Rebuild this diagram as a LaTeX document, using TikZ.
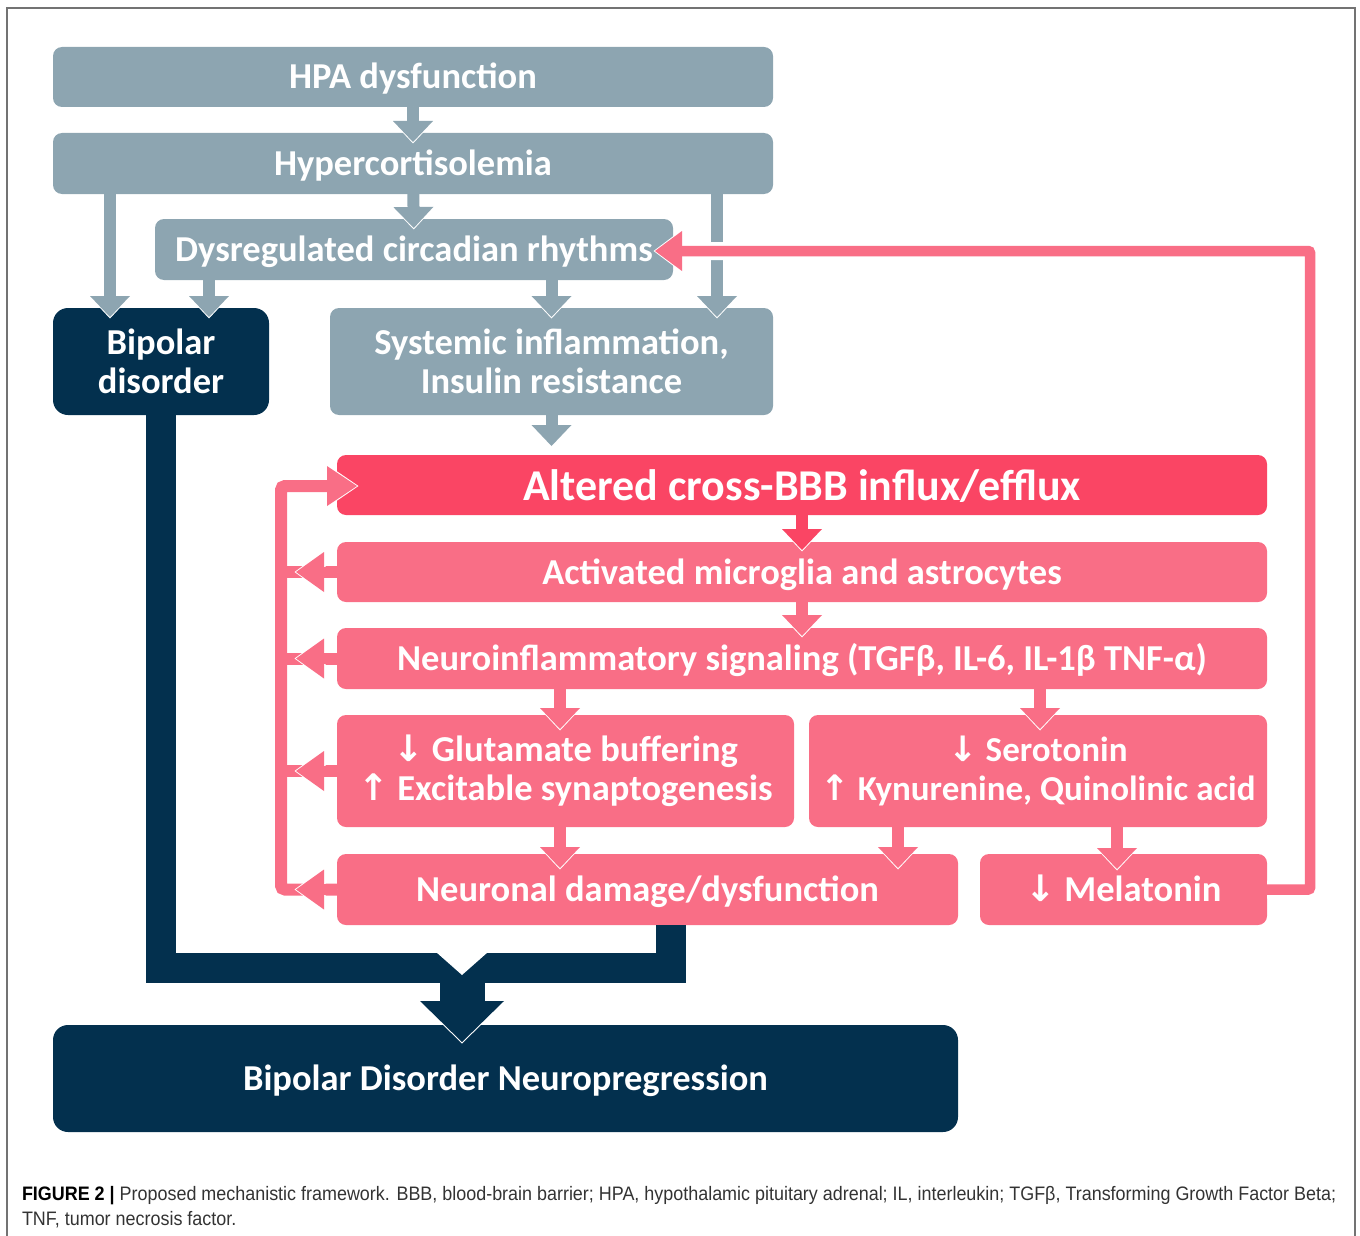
\documentclass[tikz,border=0pt]{standalone}
\usepackage{fontspec}
\usetikzlibrary{arrows.meta}

\newfontfamily\boxfont{Carlito}
\newfontfamily\captionfont[FakeStretch=0.92]{Liberation Sans}
\newfontfamily\symbolfont{DejaVu Sans}
\newcommand{\lessarrow}{{\symbolfont\char"2193}}
\newcommand{\morearrow}{{\symbolfont\char"2191}}

\definecolor{grey box color}{HTML}{8DA5B1}
\definecolor{navy box color}{HTML}{03304E}
\definecolor{bbb box color}{HTML}{FA4564}
\definecolor{pink box color}{HTML}{F96E86}
\colorlet{frame color}{black!55}
\colorlet{caption color}{black!80}

\tikzset{
    x={1pt},
    y={-1pt},
    box/.style={
        fill={#1}, draw=none,
        rounded corners={9pt},
        text=white, align=center,
        inner sep=0pt, outer sep=0pt,
        font={\boxfont\bfseries\fontsize{36.5}{39}\selectfont},
    },
    one line/.style={
        text height={27pt},
        text depth={3pt},
    },
    tip halo/.style n args={3}{
        preaction={
            draw=white, line width={0.1pt},
            shorten >={-(#1)-1.5},
            -{Triangle[length=#2, width=#3, line width=0pt, color=white, fill=white]},
        },
    },
    down arrow/.style={
        tip halo={#1}{24pt}{45pt},
        line width={12},
        shorten >={-(#1)},
        -{Triangle[length=21pt, width=40pt, line width=0pt]},
    },
    down arrow/.default={9},
    left arrow/.style={
        tip halo={0}{31pt}{45pt},
        draw=pink box color,
        line width={11},
        -{Triangle[length=28pt, width=40pt, line width=0pt]},
    },
    bus line/.style={
        draw=pink box color,
        line width={12},
        rounded corners={4pt},
    },
    bus arrow/.style={
        bus line,
        tip halo={20}{33pt}{45pt},
        shorten >={-20},
        -{Triangle[length=30pt, width=40pt, line width=0pt]},
    },
    feedback arrow/.style={
        preaction={draw=white, line width={18}, shorten >={9}, -},
        tip halo={18}{30pt}{45pt},
        draw=pink box color,
        line width={10.5},
        rounded corners={2pt},
        shorten >={-18},
        -{Triangle[length=27pt, width=40pt, line width=0pt]},
    },
    navy bar/.style={
        draw=navy box color,
        line width={30},
    },
    navy arrow/.style={
        tip halo={17}{44pt}{90pt},
        draw=navy box color,
        line width={45},
        shorten >={-17},
        -{Triangle[length=41pt, width=84pt, line width=0pt]},
    },
    caption/.style={
        font={\captionfont\fontsize{19.5}{24}\selectfont},
        text=caption color,
        inner sep=0pt, outer sep=0pt,
        anchor=base west,
    },
}

\begin{document}
\begin{tikzpicture}
\useasboundingbox (0,0) rectangle (1360,1236);
% frame
\draw[frame color, line width={1.2}] (7,1236) |- (1355,8) -- (1355,1236);
% boxes
\node[box={grey box color}, one line, minimum width={720}, minimum height={60}] (hpa) at (413,77) {HPA dysfunction};
\node[box={grey box color}, one line, minimum width={720}, minimum height={61}] (hyper) at (413,163.5) {Hypercortisolemia};
\node[box={grey box color}, one line, minimum width={518}, minimum height={61}] (circadian) at (414,249.5) {Dysregulated circadian rhythms};
\node[box={navy box color}, rounded corners={15pt}, minimum width={216}, minimum height={107}] (bipolar) at (161,361.5) {Bipolar\\disorder};
\node[box={grey box color}, minimum width={443}, minimum height={107}] (systemic) at (551.5,361.5) {Systemic inflammation,\\Insulin resistance};
\node[box={bbb box color}, minimum width={930}, minimum height={60}, text height={34pt}, text depth={3pt}, font={\boxfont\bfseries\fontsize{44}{48}\selectfont}] (bbb) at (802,485) {Altered cross-BBB influx/efflux};
\node[box={pink box color}, one line, minimum width={930}, minimum height={60}] (glia) at (802,572) {Activated microglia and astrocytes};
\node[box={pink box color}, one line, minimum width={930}, minimum height={61}] (signaling) at (802,658.5) {Neuroinflammatory signaling (TGFβ, IL-6, IL-1β TNF-α)};
\node[box={pink box color}, minimum width={457}, minimum height={112}] (glutamate) at (565.5,771) {\lessarrow{} Glutamate buffering\\\morearrow{} Excitable synaptogenesis};
\node[box={pink box color}, minimum width={458}, minimum height={112}, font={\boxfont\bfseries\fontsize{35}{39}\selectfont}] (serotonin) at (1038,771) {\lessarrow{} Serotonin\\\morearrow{} Kynurenine, Quinolinic acid};
\node[box={pink box color}, one line, minimum width={621}, minimum height={71}] (neuronal) at (647.5,889.5) {Neuronal damage/dysfunction};
\node[box={pink box color}, one line, minimum width={287}, minimum height={71}] (melatonin) at (1123.5,889.5) {\lessarrow{} Melatonin};
\node[box={navy box color}, one line, rounded corners={15pt}, minimum width={905}, minimum height={107}] (progression) at (505.5,1078.5) {Bipolar Disorder Neuropregression};
% grey arrows
\draw[down arrow, grey box color] (hpa) -- (hyper);
\draw[down arrow, grey box color] (hyper) -- (circadian);
\draw[down arrow, grey box color] ([xshift=57pt]hyper.south west) -- ([xshift=57pt]bipolar.north west);
\draw[down arrow, grey box color] ([xshift=54pt]circadian.south west) -- ([xshift=156pt]bipolar.north west);
\draw[down arrow, grey box color] (circadian.south -| systemic.north) -- (systemic.north);
\draw[down arrow, grey box color] ([xshift=-56pt]hyper.south east) -- ([xshift=-56pt]systemic.north east);
\draw[down arrow={-9}, grey box color] (systemic.south) -- (systemic.south |- bbb.north);
% red arrows
\draw[down arrow={8}, bbb box color] (bbb) -- (glia);
\draw[down arrow={8}, pink box color] (glia) -- (signaling);
\draw[down arrow={14}, pink box color] (signaling.south -| 560,0) -- (glutamate.north -| 560,0);
\draw[down arrow={14}, pink box color] (signaling.south -| 1040,0) -- (serotonin.north -| 1040,0);
\draw[down arrow={14}, pink box color] (glutamate.south -| 560,0) -- (neuronal.north -| 560,0);
\draw[down arrow={14}, pink box color] (serotonin.south -| 898,0) -- (neuronal.north -| 898,0);
\draw[down arrow={15}, pink box color] (serotonin.south -| 1117,0) -- (melatonin.north -| 1117,0);
% feedback loops
\coordinate (loop) at (1310,251);
\draw[feedback arrow] (melatonin.east) -| (loop) -- (circadian.east |- loop);
\coordinate (bus) at (281,486);
\draw[bus arrow] (neuronal.west) -| (bus) -- (bbb.west |- bus);
\foreach \n in {glia, signaling, glutamate}
    \draw[bus line] (\n.west) -- (\n.west -| bus);
\foreach \n in {glia, signaling, glutamate, neuronal}
    \draw[left arrow] (\n.west) -- (\n.west -| 296,0);
% progression
\coordinate (merge) at (462,968);
\draw[navy bar] (bipolar.south) |- (merge) -| (neuronal.south -| 671,0);
\draw[navy arrow] (merge) -- (progression.north -| merge);
\fill[white] (merge) ++(-26,-16) -- ++(26,23) -- ++(26,-23) -- cycle;
% caption
\node[caption] (caption top) at (22,1200) {\textbf{\color{black}FIGURE 2 |} Proposed mechanistic framework. BBB, blood-brain barrier; HPA, hypothalamic pituitary adrenal; IL, interleukin; TGFβ, Transforming Growth Factor Beta;};
\node[caption] (caption bottom) at (22,1225) {TNF, tumor necrosis factor.};
\end{tikzpicture}
\end{document}
